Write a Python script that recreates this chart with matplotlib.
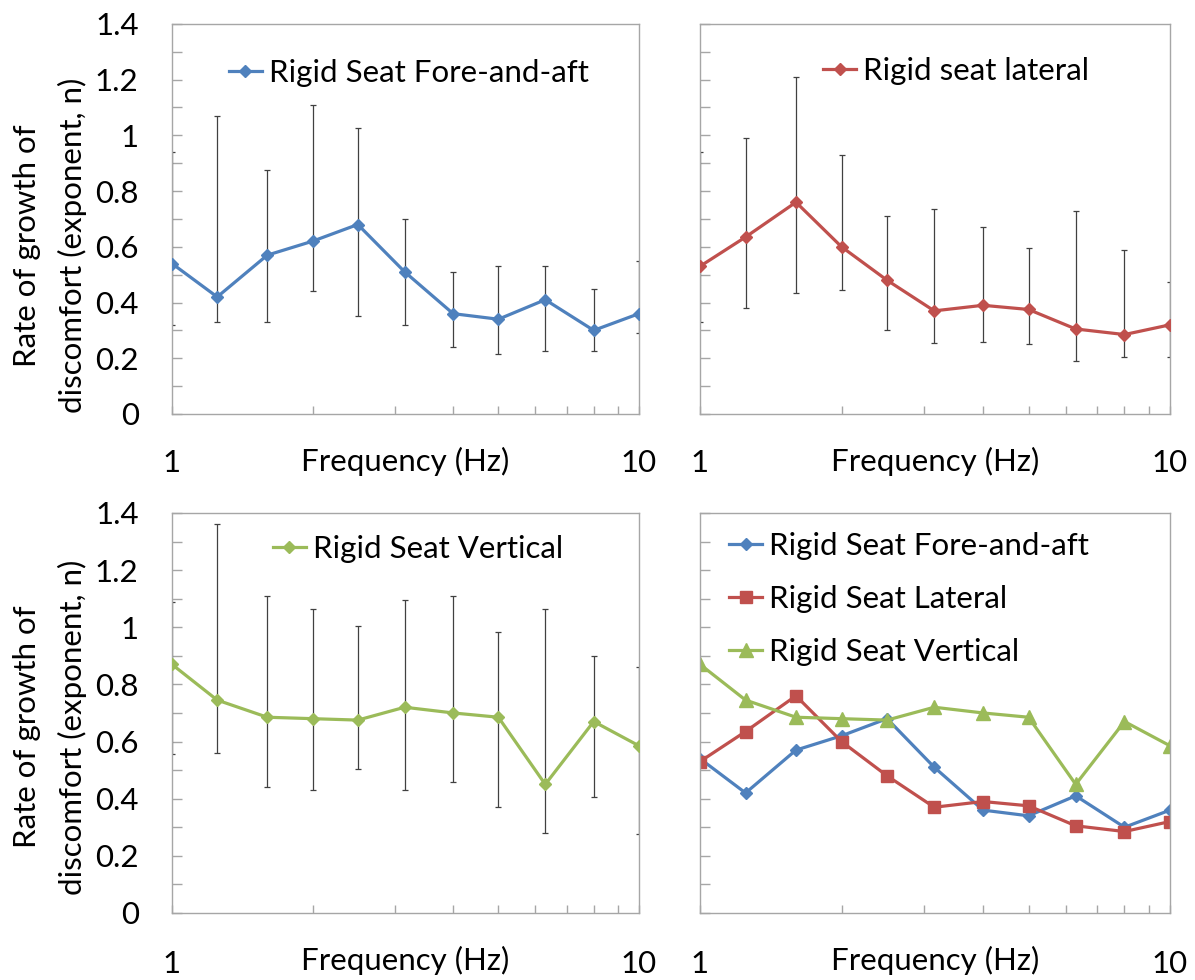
import matplotlib
matplotlib.use('Agg')
import matplotlib.pyplot as plt
import numpy as np
from matplotlib.ticker import FixedLocator, NullFormatter

plt.rcParams['font.family'] = ['Lato', 'DejaVu Sans']

# frecuencias de tercio de octava (Hz)
freqs = [1, 1.25, 1.6, 2, 2.5, 3.15, 4, 5, 6.3, 8, 10]

# exponente n - fore-and-aft
fa_mean = [0.54, 0.42, 0.57, 0.62, 0.68, 0.51, 0.36, 0.34, 0.41, 0.30, 0.36]
fa_upper = [0.94, 1.07, 0.875, 1.11, 1.025, 0.70, 0.51, 0.53, 0.53, 0.45, 0.55]
fa_lower = [0.32, 0.33, 0.33, 0.44, 0.35, 0.32, 0.24, 0.215, 0.225, 0.225, 0.29]

# lateral
lat_mean = [0.53, 0.635, 0.76, 0.60, 0.48, 0.37, 0.39, 0.375, 0.305, 0.285, 0.32]
lat_upper = [0.94, 0.99, 1.21, 0.93, 0.71, 0.735, 0.67, 0.595, 0.73, 0.59, 0.475]
lat_lower = [0.33, 0.38, 0.435, 0.445, 0.30, 0.255, 0.26, 0.25, 0.19, 0.205, 0.205]

# vertical
vert_mean = [0.87, 0.745, 0.685, 0.68, 0.675, 0.72, 0.70, 0.685, 0.45, 0.67, 0.585]
vert_upper = [1.09, 1.36, 1.11, 1.065, 1.005, 1.095, 1.11, 0.985, 1.065, 0.90, 0.86]
vert_lower = [0.555, 0.56, 0.44, 0.43, 0.505, 0.43, 0.46, 0.37, 0.28, 0.405, 0.275]

x_ticks = [1, 10]
x_ticklabels = ['1', '10']
y_ticks = [0, 0.2, 0.4, 0.6, 0.8, 1.0, 1.2, 1.4]
y_ticklabels = ['0', '0.2', '0.4', '0.6', '0.8', '1', '1.2', '1.4']

BLUE = '#4F81BD'
RED = '#C0504D'
GREEN = '#9BBB59'
GRIS = '#a6a6a6'
FS = 22.5


def preparar_ejes(ax, con_labels_y, tick_pad, label_y):
    ax.set_xscale('log')
    ax.set_xlim(1, 10)
    ax.set_ylim(0, 1.4)
    ax.set_xticks(x_ticks)
    ax.set_xticklabels(x_ticklabels)
    ax.xaxis.set_minor_locator(FixedLocator([2, 3, 4, 5, 6, 7, 8, 9]))
    ax.xaxis.set_minor_formatter(NullFormatter())
    ax.set_yticks(y_ticks)
    ax.yaxis.set_minor_locator(FixedLocator(np.arange(0.1, 1.4, 0.2)))
    if con_labels_y:
        ax.set_yticklabels(y_ticklabels)
    else:
        ax.set_yticklabels([])
    ax.tick_params(which='both', direction='in', color=GRIS, width=1, labelsize=FS)
    ax.tick_params(axis='y', which='both', length=7, pad=24)
    ax.tick_params(axis='x', which='both', length=6, pad=tick_pad)
    for s in ax.spines.values():
        s.set_color(GRIS)
        s.set_linewidth(1)
    ax.set_xlabel('Frequency (Hz)', fontsize=FS)
    ax.xaxis.label.set_va('baseline')
    ax.xaxis.set_label_coords(0.5, label_y)


def serie_con_error(ax, media, arriba, abajo, color, etiqueta):
    yerr = [np.array(media) - np.array(abajo), np.array(arriba) - np.array(media)]
    ax.errorbar(freqs, media, yerr=yerr, fmt='none', ecolor='#404040',
                elinewidth=0.9, capsize=2.5, capthick=0.9, zorder=2)
    ax.plot(freqs, media, color=color, lw=2.3, marker='D', ms=6.3,
            label=etiqueta, zorder=3)


fig = plt.figure(figsize=(11.95, 9.8), dpi=100)
ax1 = fig.add_axes([0.1439, 0.5776, 0.3908, 0.3980])
ax2 = fig.add_axes([0.5858, 0.5776, 0.3933, 0.3980])
ax3 = fig.add_axes([0.1439, 0.0684, 0.3908, 0.4082])
ax4 = fig.add_axes([0.5858, 0.0684, 0.3933, 0.4082])

preparar_ejes(ax1, True, 25, -57 / 390)
preparar_ejes(ax2, False, 25, -57 / 390)
preparar_ejes(ax3, True, 27, -57 / 400)
preparar_ejes(ax4, False, 27, -57 / 400)

serie_con_error(ax1, fa_mean, fa_upper, fa_lower, BLUE, 'Rigid Seat Fore-and-aft')
serie_con_error(ax2, lat_mean, lat_upper, lat_lower, RED, 'Rigid seat lateral')
serie_con_error(ax3, vert_mean, vert_upper, vert_lower, GREEN, 'Rigid Seat Vertical')

# panel combinado sin barras de error
ax4.plot(freqs, fa_mean, color=BLUE, lw=2.3, marker='D', ms=6.3, label='Rigid Seat Fore-and-aft')
ax4.plot(freqs, lat_mean, color=RED, lw=2.3, marker='s', ms=9, label='Rigid Seat Lateral')
ax4.plot(freqs, vert_mean, color=GREEN, lw=2.3, marker='^', ms=9.5, label='Rigid Seat Vertical')

leg_kw = dict(frameon=False, fontsize=FS, borderpad=0, borderaxespad=0,
              handlelength=1.05, handletextpad=0.23, loc='upper left')
ax1.legend(bbox_to_anchor=(0.122, 0.910), **leg_kw)
ax2.legend(bbox_to_anchor=(0.262, 0.915), **leg_kw)
ax3.legend(bbox_to_anchor=(0.216, 0.945), **leg_kw)
ax4.legend(bbox_to_anchor=(0.062, 0.952), labelspacing=0.8, **leg_kw)

# etiqueta del eje y en los paneles de la izquierda
for ax, yc in [(ax1, 0.431), (ax3, 0.465)]:
    ax.set_ylabel('Rate of growth of\ndiscomfort (exponent, n)', fontsize=FS, linespacing=1.7)
    ax.yaxis.label.set_va('center')
    ax.yaxis.set_label_coords(-0.261, yc)

plt.savefig('out.png', dpi=100)
